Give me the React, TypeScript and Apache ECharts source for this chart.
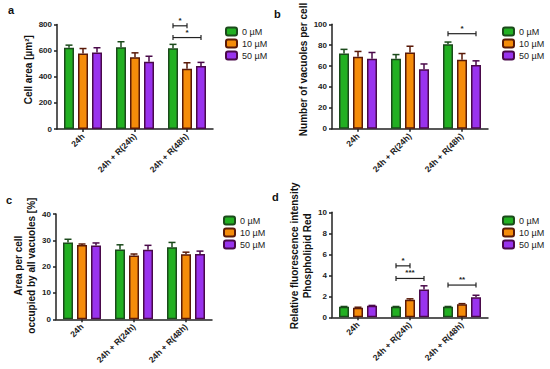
import React, { useEffect, useRef } from 'react';
import * as echarts from 'echarts';

const categories = ['24h', '24h + R(24h)', '24h + R(48h)'];
const concentrations = ['0 µM', '10 µM', '50 µM'];

// Panel a: cell area
const areaCell0 = [622, 626, 618];
const areaCell10 = [578, 550, 462];
const areaCell50 = [585, 515, 482];
const areaCellErr0 = [20, 42, 30];
const areaCellErr10 = [38, 33, 45];
const areaCellErr50 = [37, 42, 28];

// Panel b: vacuoles per cell
const vac0 = [72, 67, 81];
const vac10 = [69, 73, 66];
const vac50 = [67, 57, 61];
const vacErr0 = [4, 4, 2];
const vacErr10 = [5, 6, 6];
const vacErr50 = [6, 5, 4];

// Panel c: area occupied by vacuoles [%]
const occ0 = [29.2, 26.5, 27.4];
const occ10 = [28.2, 24.2, 24.7];
const occ50 = [28.0, 26.4, 24.8];
const occErr0 = [1.2, 1.8, 1.8];
const occErr10 = [0.4, 0.6, 0.8];
const occErr50 = [1.0, 1.7, 1.1];

// Panel d: relative fluorescence
const fl0 = [1.0, 1.0, 1.0];
const fl10 = [0.92, 1.68, 1.25];
const fl50 = [1.1, 2.65, 1.9];
const flErr0 = [0.03, 0.03, 0.03];
const flErr10 = [0.04, 0.08, 0.05];
const flErr50 = [0.03, 0.35, 0.2];

// Significance brackets: [category, fromBar, toBar, yValue]
const sigA = [[2, 0, 1, 790], [2, 0, 2, 700]];
const sigALabels = ['*', '*'];
const sigB = [[2, 0, 2, 91]];
const sigBLabels = ['*'];
const sigD = [[1, 0, 1, 4.9], [1, 0, 2, 3.7], [2, 0, 2, 3.07]];
const sigDLabels = ['*', '***', '**'];

const FONT = 'Liberation Sans, Arial, sans-serif';
const colors = ['#22b022', '#f58c0a', '#9933ee'];
const borders = ['#1b4a1b', '#5a1a08', '#4a0a4a'];
const BAR_OFFSETS = [-14, 0, 14];

function barSeries(g: number, idx: number, vals: number[]) {
  return {
    type: 'bar',
    name: concentrations[idx],
    xAxisIndex: g,
    yAxisIndex: g,
    data: vals,
    barWidth: 10,
    barGap: '40%',
    itemStyle: { color: colors[idx], borderColor: borders[idx], borderWidth: 1.5 },
    z: 2,
  };
}

function errSeries(g: number, idx: number, vals: number[], errs: number[]) {
  const off = BAR_OFFSETS[idx];
  return {
    type: 'custom',
    xAxisIndex: g,
    yAxisIndex: g,
    silent: true,
    z: 3,
    clip: false,
    data: vals.map((v, i) => [i, v, errs[i]]),
    renderItem: (params: any, api: any) => {
      const base = api.coord([api.value(0), api.value(1)]);
      const top = api.coord([api.value(0), api.value(1) + api.value(2)]);
      const x = base[0] + off;
      const st = { stroke: borders[idx], lineWidth: 1.5 };
      return {
        type: 'group',
        children: [
          { type: 'line', shape: { x1: x, y1: base[1], x2: x, y2: top[1] }, style: st },
          { type: 'line', shape: { x1: x - 3.5, y1: top[1], x2: x + 3.5, y2: top[1] }, style: st },
        ],
      };
    },
  };
}

function sigSeries(g: number, data: number[][], labels: string[]) {
  return {
    type: 'custom',
    xAxisIndex: g,
    yAxisIndex: g,
    silent: true,
    clip: false,
    z: 4,
    data: data,
    renderItem: (params: any, api: any) => {
      const c = api.coord([api.value(0), api.value(3)]);
      const x1 = c[0] + BAR_OFFSETS[api.value(1)];
      const x2 = c[0] + BAR_OFFSETS[api.value(2)];
      const y = c[1];
      const st = { stroke: '#222', lineWidth: 1.2 };
      return {
        type: 'group',
        children: [
          { type: 'line', shape: { x1, y1: y, x2, y2: y }, style: st },
          { type: 'line', shape: { x1, y1: y - 2.5, x2: x1, y2: y + 2.5 }, style: st },
          { type: 'line', shape: { x1: x2, y1: y - 2.5, x2, y2: y + 2.5 }, style: st },
          {
            type: 'text',
            style: {
              text: labels[params.dataIndex],
              x: (x1 + x2) / 2,
              y: y - 1.5,
              align: 'center',
              verticalAlign: 'bottom',
              fontSize: 8,
              fontWeight: 'bold',
              fontFamily: FONT,
              fill: '#222',
            },
          },
        ],
      };
    },
  };
}

const grids = [
  { left: 57, top: 24.5, width: 156, height: 104.5 },
  { left: 332, top: 24.3, width: 156, height: 104.4 },
  { left: 56, top: 214, width: 156, height: 105.3 },
  { left: 332, top: 212.3, width: 156, height: 105 },
];

const yNames = ['Cell area [µm²]', 'Number of vacuoles per cell', 'Area per cell\noccupied by all vacuoles [%]', 'Relative fluorescence intensity\nPhospholipid Red'];
const yMax = [800, 100, 40, 10];
const yInt = [200, 20, 10, 2];
const yGaps = [13, 15, 13, 17];
const yNamePads = [[0, 0, 0, 14], [0, 0, 0, 14], [0, 0, 0, 2], [0, 0, 0, 18]];

const legendPos = [
  { left: 225, top: 26 },
  { left: 502, top: 26 },
  { left: 223, top: 215 },
  { left: 502, top: 215 },
];

const panelLabels = [
  { t: 'a', x: 8, y: 4 },
  { t: 'b', x: 274, y: 8 },
  { t: 'c', x: 6, y: 194 },
  { t: 'd', x: 272, y: 191 },
];

export default function App() {
  const ref = useRef<HTMLDivElement>(null);
  useEffect(() => {
    if (!ref.current) return;
    const chart = echarts.init(ref.current, undefined, { renderer: 'svg' });
    const axisLine = { show: true, lineStyle: { color: '#222', width: 1.5 } };
    const option: any = {
      animation: false,
      backgroundColor: '#fff',
      grid: grids.map((g) => ({ ...g, containLabel: false })),
      xAxis: grids.map((_, i) => ({
        type: 'category',
        gridIndex: i,
        data: categories,
        axisLine,
        axisTick: { show: true, alignWithLabel: true, length: 3, lineStyle: { color: '#222', width: 1.5 } },
        axisLabel: { rotate: 45, fontSize: 8.5, fontWeight: 'bold', fontFamily: FONT, color: '#222', margin: 6, interval: 0 },
        splitLine: { show: false },
      })),
      yAxis: grids.map((_, i) => ({
        type: 'value',
        gridIndex: i,
        min: 0,
        max: yMax[i],
        interval: yInt[i],
        axisLine,
        axisTick: { show: true, length: 3, lineStyle: { color: '#222', width: 1.5 } },
        axisLabel: { fontSize: 8, fontWeight: 'bold', fontFamily: FONT, color: '#222', margin: 5 },
        splitLine: { show: false },
        name: yNames[i],
        nameLocation: 'middle',
        nameRotate: 90,
        nameGap: yGaps[i],
        nameTextStyle: { fontSize: 10, fontWeight: 'bold', fontFamily: FONT, color: '#111', lineHeight: 13, padding: yNamePads[i] },
      })),
      legend: legendPos.map((p) => ({
        ...p,
        padding: 0,
        orient: 'vertical',
        data: concentrations,
        itemWidth: 11,
        itemHeight: 8,
        itemGap: 1,
        selectedMode: false,
        textStyle: { fontSize: 9, fontFamily: FONT, color: '#222', lineHeight: 11 },
      })),
      graphic: panelLabels.map((p) => ({
        type: 'text',
        left: p.x,
        top: p.y,
        style: { text: p.t, fontSize: 11, fontWeight: 'bold', fontFamily: FONT, fill: '#111' },
      })),
      series: [
        barSeries(0, 0, areaCell0), barSeries(0, 1, areaCell10), barSeries(0, 2, areaCell50),
        errSeries(0, 0, areaCell0, areaCellErr0), errSeries(0, 1, areaCell10, areaCellErr10), errSeries(0, 2, areaCell50, areaCellErr50),
        sigSeries(0, sigA, sigALabels),
        barSeries(1, 0, vac0), barSeries(1, 1, vac10), barSeries(1, 2, vac50),
        errSeries(1, 0, vac0, vacErr0), errSeries(1, 1, vac10, vacErr10), errSeries(1, 2, vac50, vacErr50),
        sigSeries(1, sigB, sigBLabels),
        barSeries(2, 0, occ0), barSeries(2, 1, occ10), barSeries(2, 2, occ50),
        errSeries(2, 0, occ0, occErr0), errSeries(2, 1, occ10, occErr10), errSeries(2, 2, occ50, occErr50),
        barSeries(3, 0, fl0), barSeries(3, 1, fl10), barSeries(3, 2, fl50),
        errSeries(3, 0, fl0, flErr0), errSeries(3, 1, fl10, flErr10), errSeries(3, 2, fl50, flErr50),
        sigSeries(3, sigD, sigDLabels),
      ],
    };
    chart.setOption(option);
    return () => chart.dispose();
  }, []);
  return <div ref={ref} style={{ position: 'absolute', left: 0, top: 0, width: 550, height: 369 }} />;
}
